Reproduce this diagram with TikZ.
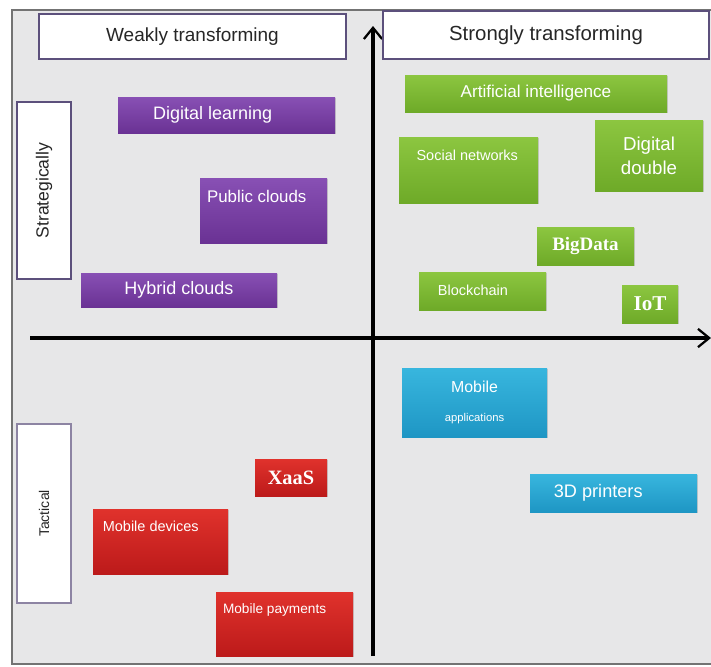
\documentclass[tikz,border=0pt]{standalone}
\usepackage{fontspec}
\setmainfont{Liberation Sans}
\newfontfamily\tnr{Liberation Serif}
\usetikzlibrary{positioning,shadows,arrows.meta}

\definecolor{panel}{RGB}{231,231,232}
\definecolor{rim}{RGB}{92,80,124}
\definecolor{purpleA}{RGB}{136,80,180}
\definecolor{purpleB}{RGB}{106,50,148}
\definecolor{greenA}{RGB}{140,198,64}
\definecolor{greenB}{RGB}{110,170,40}
\definecolor{blueA}{RGB}{56,182,222}
\definecolor{blueB}{RGB}{30,150,196}
\definecolor{redA}{RGB}{224,50,44}
\definecolor{redB}{RGB}{188,26,26}

% one pixel of the grid below
\newdimen\pix \pix=0.025cm

\begin{document}
\begin{tikzpicture}[x=0.025cm, y=-0.025cm,
    dims/.style 2 args = {minimum width=#1*\pix, minimum height=#2*\pix},
    fs/.style = {font=\fontsize{#1}{#1}\selectfont},
    serif/.style = {font=\tnr\bfseries\fontsize{#1}{#1}\selectfont},
    heading/.style = {rectangle, draw=rim, line width=1.5pt, fill=white,
      text=black!85, inner sep=0pt},
    tech/.style = {rectangle, inner sep=0pt, text=white, align=center,
      drop shadow={shadow xshift=.8pt, shadow yshift=-.8pt, opacity=.3}},
    purplebox/.style = {tech, top color=purpleA, bottom color=purpleB},
    greenbox/.style = {tech, top color=greenA, bottom color=greenB},
    bluebox/.style = {tech, top color=blueA, bottom color=blueB},
    redbox/.style = {tech, top color=redA, bottom color=redB},
    caption/.style = {inner sep=0pt, text=white},
    axis/.style = {line width=2.2pt,
      -{Straight Barb[length=8pt, width=13pt, line width=1.6pt]}}]

  \useasboundingbox[fill=white] (0,0) rectangle (711,666);
  \draw[fill=panel, draw=black!55, line width=.8pt] (12,10) rectangle (714,664);

  % axes
  \coordinate (xs) at (30,338);
  \coordinate (xe) at (711,338);
  \coordinate (ys) at (373,656);
  \coordinate (ye) at (373,26);
  \draw[axis] (xs) -- (xe);
  \draw[axis] (ys) -- (ye);

  % headings
  \node[heading, dims={307}{45}, fs=13.5] (weak) at (192.5,36.5) {Weakly transforming};
  \node[heading, dims={326}{48}, fs=14.5] (strong) at (546,35) {Strongly transforming};
  \node[heading, dims={177}{54}, fs=12.5, rotate=90] (strat) at (44,190.5) {Strategically};
  \node[heading, dims={179}{54}, fs=10, rotate=90, draw=rim!70] (tact) at (44,513.5) {Tactical};

  % weakly transforming, strategic
  \node[purplebox, dims={217}{36}] (dl) at (226.5,115) {};
  \node[caption, fs=12.8, right=25pt of dl.west] (dl-t) {Digital learning};
  \node[purplebox, dims={127}{65}] (pc) at (263.5,210.5) {};
  \node[caption, fs=12, below right=8.5pt and 5pt of pc.north west] (pc-t) {Public clouds};
  \node[purplebox, dims={196}{34}, fs=12.8] (hc) at (179,290) {Hybrid clouds};

  % strongly transforming, strategic
  \node[greenbox, dims={262}{37}, fs=12.2] (ai) at (536,93.5) {Artificial intelligence};
  \node[greenbox, dims={139}{66}] (sn) at (468.5,170) {};
  \node[caption, fs=10.3, below right=9pt and 12.5pt of sn.north west] (sn-t) {Social networks};
  \node[greenbox, dims={108}{71}, fs=13.3] (dd) at (649,155.5) {Digital\\[4pt]double};
  \node[greenbox, dims={97}{38}, serif=13.5] (bd) at (585.5,246) {BigData};
  \node[greenbox, dims={127}{38}] (bc) at (482.5,291) {};
  \node[caption, fs=10.3, below right=9pt and 13.5pt of bc.north west] (bc-t) {Blockchain};
  \node[greenbox, dims={56}{38}, serif=15] (iot) at (650,304) {IoT};

  % strongly transforming, tactical
  \node[bluebox, dims={145}{69}] (ma) at (474.5,402.5)
    {{\fontsize{11.3}{11.3}\selectfont Mobile}\\[9pt]{\fontsize{8}{8}\selectfont applications}};
  \node[bluebox, dims={167}{38}] (pr) at (613.5,493) {};
  \node[caption, fs=12.9, right=17pt of pr.west] (pr-t) {3D printers};

  % weakly transforming, tactical
  \node[redbox, dims={72}{37}, serif=14.5] (xaas) at (291,477.5) {XaaS};
  \node[redbox, dims={135}{65}] (md) at (160.5,541.5) {};
  \node[caption, fs=10.3, below right=8.5pt and 7pt of md.north west] (md-t) {Mobile devices};
  \node[redbox, dims={137}{64}] (mp) at (284.5,624) {};
  \node[caption, fs=9.7, below right=8.5pt and 5pt of mp.north west] (mp-t) {Mobile payments};
\end{tikzpicture}
\end{document}
